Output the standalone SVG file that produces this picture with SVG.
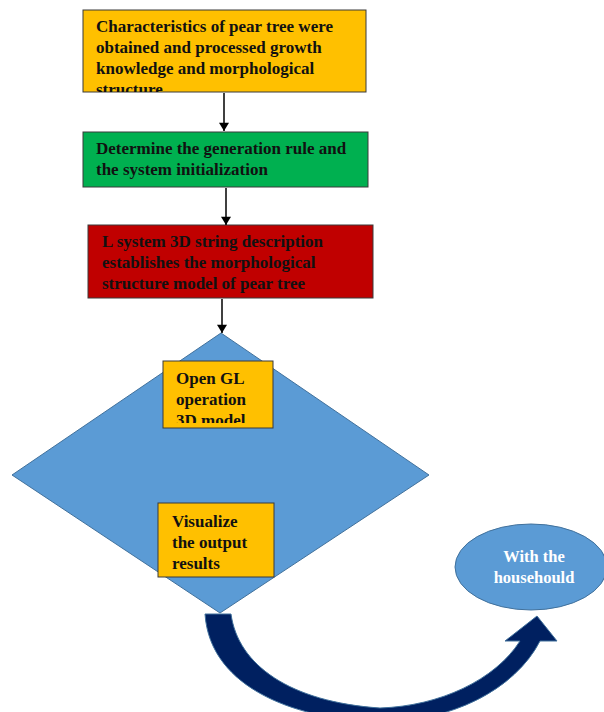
<svg xmlns="http://www.w3.org/2000/svg" width="604" height="712" viewBox="0 0 604 712">
<style>
.box{stroke:#3a3a3a;stroke-width:1}
.t{font-family:"Liberation Serif","Times New Roman",serif;font-weight:bold;font-size:17px;fill:#111}
.tw{font-family:"Liberation Serif","Times New Roman",serif;font-weight:bold;font-size:16.5px;fill:#fff}
.conn{stroke:#000;stroke-width:1.5;fill:none}
</style>
<defs>
<marker id="ah" viewBox="0 0 10 12" refX="10" refY="6" markerWidth="11" markerHeight="10" markerUnits="userSpaceOnUse" orient="auto">
<path d="M0,0 L10,6 L0,12 Z" fill="#000"/>
</marker>
<clipPath id="c1"><rect x="83" y="10" width="283" height="82"/></clipPath>
<clipPath id="c4"><rect x="163" y="361" width="110" height="62"/></clipPath>
</defs>
<rect width="604" height="712" fill="#fff"/>

<g id="diamond">
<path d="M221,333 L429,475 L220,613 L12,475 Z" fill="#5B9BD5" stroke="#41719C" stroke-width="1"/>
</g>

<g id="n1">
<rect class="box" x="83" y="10" width="283" height="82" fill="#FFC000"/>
<g clip-path="url(#c1)">
<text class="t" x="96" y="32">Characteristics of pear tree were</text>
<text class="t" x="96" y="53">obtained and processed growth</text>
<text class="t" x="96" y="74">knowledge and morphological</text>
<text class="t" x="96" y="95">structure</text>
</g>
</g>

<g id="n2">
<rect class="box" x="83" y="132" width="285" height="55" fill="#00B050"/>
<text class="t" x="96" y="154">Determine the generation rule and</text>
<text class="t" x="96" y="175">the system initialization</text>
</g>

<g id="n3">
<rect class="box" x="88" y="225" width="285" height="73" fill="#C00000"/>
<text class="t" x="102" y="247">L system 3D string description</text>
<text class="t" x="102" y="268">establishes the morphological</text>
<text class="t" x="102" y="289">structure model of pear tree</text>
</g>

<g id="n4">
<rect class="box" x="163" y="361" width="110" height="67" fill="#FFC000"/>
<g clip-path="url(#c4)">
<text class="t" x="176" y="384">Open GL</text>
<text class="t" x="176" y="405">operation</text>
<text class="t" x="176" y="426">3D model</text>
</g>
</g>

<g id="n5">
<rect class="box" x="158" y="503" width="116" height="74" fill="#FFC000"/>
<text class="t" x="172" y="527">Visualize</text>
<text class="t" x="172" y="548">the output</text>
<text class="t" x="172" y="569">results</text>
</g>

<g id="n6">
<ellipse cx="531" cy="567" rx="76" ry="43" fill="#5B9BD5" stroke="#41719C" stroke-width="1"/>
<text class="tw" x="534" y="562" text-anchor="middle">With the</text>
<text class="tw" x="534" y="583" text-anchor="middle">househould</text>
</g>

<g id="connectors">
<line class="conn" x1="224" y1="93" x2="224" y2="131" marker-end="url(#ah)"/>
<line class="conn" x1="226" y1="188" x2="226" y2="225" marker-end="url(#ah)"/>
<line class="conn" x1="222" y1="299" x2="222" y2="333" marker-end="url(#ah)"/>
<path d="M205,614 L231,614 C238,665 290,702 380,708 C440,706 495,680 520,641 L505,641 L537,616 L557,641 L540,641 C515,690 450,722 380,722 C300,720 210,690 205,614 Z" fill="#002060" stroke="#41719C" stroke-width="1"/>
</g>
</svg>
